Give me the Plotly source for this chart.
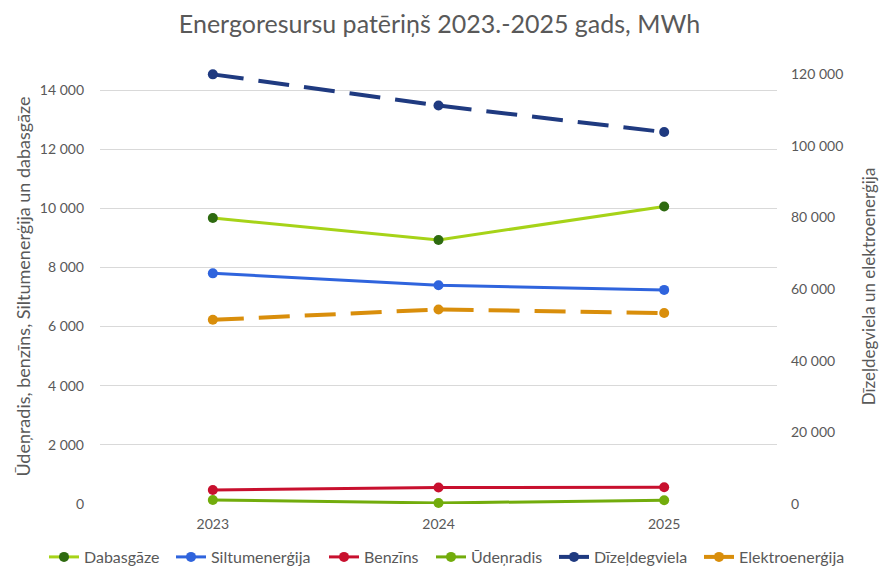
import plotly.graph_objects as go

years = ["2023", "2024", "2025"]

dabasgaze = [9670, 8930, 10060]
siltumenergija = [7800, 7400, 7240]
benzins = [475, 560, 565]
udenradis = [135, 35, 125]
dizeldegviela = [119900, 111200, 103800]
elektroenergija = [51400, 54300, 53300]

names = ["Dabasgāze", "Siltumenerģija", "Benzīns", "Ūdeņradis", "Dīzeļdegviela", "Elektroenerģija"]
legend_text_x = [85, 212, 365, 472, 595, 740]

font_family = "Lato, 'Open Sans', sans-serif"
grey = "#595959"
W, H = 879, 569

fig = go.Figure()

def add(i, y, line_color, marker_color, dash=None, axis="y", width=3):
    fig.add_trace(go.Scatter(
        x=years, y=y, name=names[i], mode="lines+markers",
        line=dict(color=line_color, width=width, dash=dash),
        marker=dict(color=marker_color, size=10),
        yaxis=axis, cliponaxis=False,
        legend="legend" if i == 0 else f"legend{i+1}",
    ))

add(0, dabasgaze, "#A6D318", "#2E6A10")
add(1, siltumenergija, "#2F64DD", "#2F64DD")
add(2, benzins, "#C8102E", "#C8102E")
add(3, udenradis, "#72AC0C", "#72AC0C")
add(4, dizeldegviela, "#1F3A80", "#1F3A80", dash="31px,15px", axis="y2", width=4)
add(5, elektroenergija, "#D98E0B", "#D98E0B", dash="31px,15px", axis="y2", width=4)

plot_top, plot_bottom = 69, 504
left_max = 14000 * (plot_bottom - plot_top) / 414
right_max = 120000 * (plot_bottom - plot_top) / 430

legends = {}
for i, tx in enumerate(legend_text_x):
    key = "legend" if i == 0 else f"legend{i+1}"
    legends[key] = dict(orientation="h", xref="container", x=(tx - 41) / W, xanchor="left",
                        yref="container", y=1 - 557 / H, yanchor="middle",
                        font=dict(size=16, color=grey), itemwidth=30,
                        bgcolor="rgba(0,0,0,0)", borderwidth=0)

fig.update_layout(
    width=W, height=H,
    margin=dict(l=100, r=102, t=plot_top, b=H - plot_bottom),
    paper_bgcolor="white", plot_bgcolor="white",
    separators=". ",
    font=dict(family=font_family, color=grey, size=14),
    title=dict(text="Energoresursu patēriņš 2023.-2025 gads, MWh",
               x=0.5, xanchor="center", y=0.958, yanchor="middle",
               font=dict(size=25, color=grey, family=font_family)),
    xaxis=dict(range=[-0.5, 2.5], showgrid=False, showline=False, zeroline=False, ticks="",
               tickfont=dict(size=14, color=grey), ticklabelstandoff=10, automargin=False),
    yaxis=dict(range=[0, left_max], tickvals=[0, 2000, 4000, 6000, 8000, 10000, 12000, 14000],
               tickformat=",d", showgrid=True, gridcolor="#D9D9D9", gridwidth=1,
               zeroline=False, showline=False, ticks="", automargin=False,
               tickfont=dict(size=14, color=grey), ticklabelstandoff=15,
               title=dict(text="Ūdeņradis, benzīns, Siltumenerģija un dabasgāze",
                          font=dict(size=18, color=grey), standoff=4)),
    yaxis2=dict(range=[0, right_max], tickvals=[0, 20000, 40000, 60000, 80000, 100000, 120000],
                tickformat=",d", overlaying="y", side="right", showgrid=False,
                zeroline=False, showline=False, ticks="", automargin=False,
                tickfont=dict(size=14, color=grey), ticklabelstandoff=13,
                title=dict(text="Dīzeļdegviela un elektroenerģija",
                           font=dict(size=17, color=grey), standoff=22)),
    showlegend=True,
    **legends,
)

fig.write_html("out.html", config={"displayModeBar": False},
               post_script="document.body.style.margin='0';")
